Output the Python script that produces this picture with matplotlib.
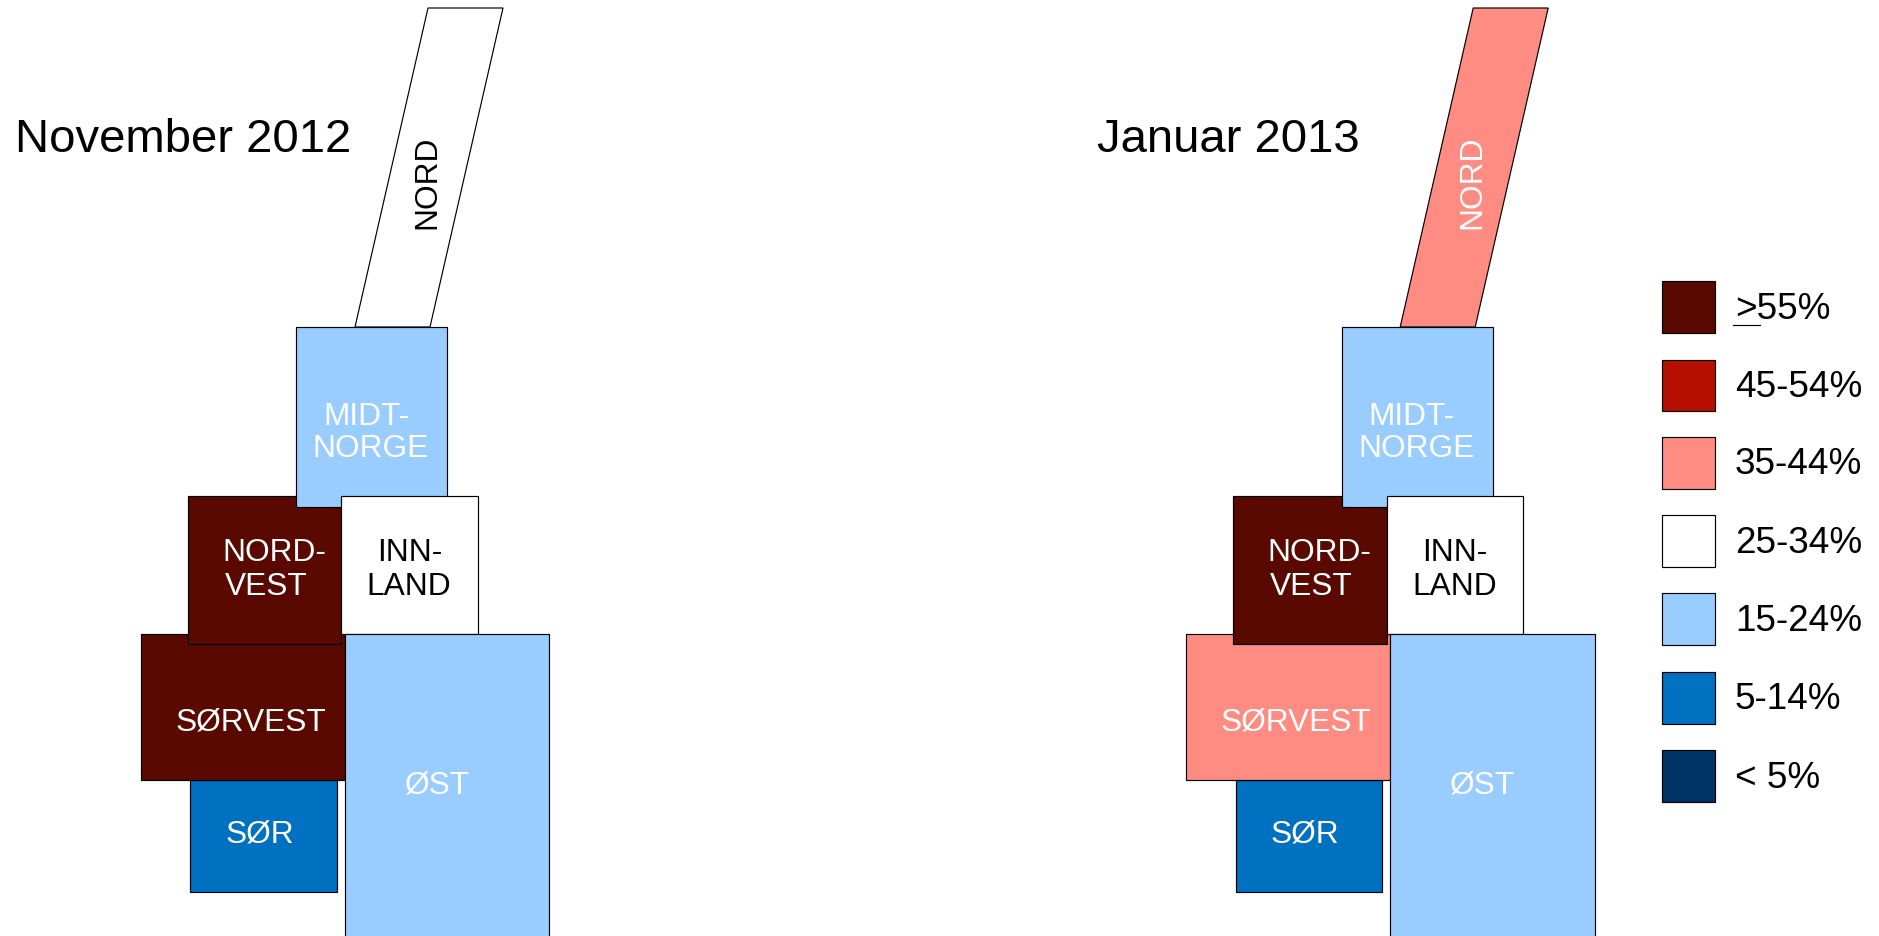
import matplotlib
matplotlib.use("Agg")
import matplotlib.pyplot as plt
from matplotlib.patches import Polygon, Rectangle

plt.rcParams['font.family'] = ['Liberation Sans', 'DejaVu Sans']

# Legend classes
classes = [">55%", "45-54%", "35-44%", "25-34%", "15-24%", "5-14%", "< 5%"]
class_colors = ["#5A0900", "#B81000", "#FF8C82", "#FFFFFF", "#99CCFF", "#0070C0", "#003366"]
class_text_colors = ["white", "white", "white", "black", "white", "white", "white"]

# Panels
panel_titles = ["November 2012", "Januar 2013"]
panel_title_x = [15, 1097]
panel_dx = [0, 1045.2]

# Regions, in drawing order, with the class each falls in for each panel
regions = ["NORD", "SØR", "SØRVEST", "NORDVEST", "MIDT-NORGE", "INNLAND", "ØST"]
nov_class = ["25-34%", "5-14%", ">55%", ">55%", "15-24%", "25-34%", "15-24%"]
jan_class = ["35-44%", "5-14%", "35-44%", ">55%", "15-24%", "25-34%", "15-24%"]
panel_classes = [nov_class, jan_class]

# Schematic map layout (x0, x1, y0, y1) of the rectangular regions
region_x0 = {"SØR": 190.5, "SØRVEST": 141, "NORDVEST": 188, "MIDT-NORGE": 296.5, "INNLAND": 341.5, "ØST": 345}
region_x1 = {"SØR": 337, "SØRVEST": 345, "NORDVEST": 341.5, "MIDT-NORGE": 447.5, "INNLAND": 478, "ØST": 549.5}
region_y0 = {"SØR": 781, "SØRVEST": 634.8, "NORDVEST": 496.8, "MIDT-NORGE": 328, "INNLAND": 496.8, "ØST": 634.8}
region_y1 = {"SØR": 892.5, "SØRVEST": 781, "NORDVEST": 645, "MIDT-NORGE": 507.5, "INNLAND": 634.8, "ØST": 960}
# The slanted northern region
nord_x = [428, 503, 430, 355]
nord_y = [9, 9, 328, 328]

# Region label lines (text, x, baseline-centre y, rotation, owning region)
label_text = ["NORD", "SØR", "SØRVEST", "NORD-", "VEST", "MIDT-", "NORGE", "INN-", "LAND", "ØST"]
label_x = [427, 260, 251, 274, 266.5, 366.5, 371, 409.7, 409, 437.7]
label_y = [182, 834.5, 723, 553.5, 587, 417, 449, 553.5, 587, 786]
label_rot = [90, 0, 0, 0, 0, 0, 0, 0, 0, 0]
label_region = ["NORD", "SØR", "SØRVEST", "NORDVEST", "NORDVEST", "MIDT-NORGE", "MIDT-NORGE", "INNLAND", "INNLAND", "ØST"]

# Legend layout
legend_y0 = [282, 360.5, 438, 516, 594, 672.5, 751]
legend_y1 = [333.5, 412, 489.5, 568, 646, 724.5, 802.5]
legend_base = [319, 397, 474.5, 553.5, 631.5, 709.5, 788]

fig = plt.figure(figsize=(18.79, 9.37), dpi=100)
ax = fig.add_axes([0, 0, 1, 1])
ax.set_xlim(0, 1879)
ax.set_ylim(937, 0)
ax.axis("off")

LW = 0.85
color_of = dict(zip(classes, class_colors))
text_of = dict(zip(classes, class_text_colors))

for title, tx, dx, cls in zip(panel_titles, panel_title_x, panel_dx, panel_classes):
    ax.text(tx, 152, title, fontsize=34, color="black", ha="left", va="baseline")
    region_class = dict(zip(regions, cls))
    for i, name in enumerate(regions):
        fc = color_of[region_class[name]]
        if name == "NORD":
            patch = Polygon([(x + dx, y) for x, y in zip(nord_x, nord_y)], closed=True,
                            facecolor=fc, edgecolor="black", linewidth=LW, zorder=i + 2)
        else:
            patch = Rectangle((region_x0[name] + dx, region_y0[name]),
                              region_x1[name] - region_x0[name],
                              region_y1[name] - region_y0[name],
                              facecolor=fc, edgecolor="black", linewidth=LW, zorder=i + 2)
        ax.add_patch(patch)
    for t, x, y, r, reg in zip(label_text, label_x, label_y, label_rot, label_region):
        ax.text(x + dx, y, t, fontsize=22.8, rotation=r, ha="center", va="center",
                color=text_of[region_class[reg]], zorder=20)

for lab, c, y0, y1, b in zip(classes, class_colors, legend_y0, legend_y1, legend_base):
    ax.add_patch(Rectangle((1662.5, y0), 52.5, y1 - y0, facecolor=c, edgecolor="black", linewidth=LW, zorder=5))
    ax.text(1735, b, lab, fontsize=26.6, ha="left", va="baseline", color="black")
ax.plot([1733, 1760], [326, 326], color="black", linewidth=LW)

fig.savefig("out.png", dpi=100, facecolor="white")
